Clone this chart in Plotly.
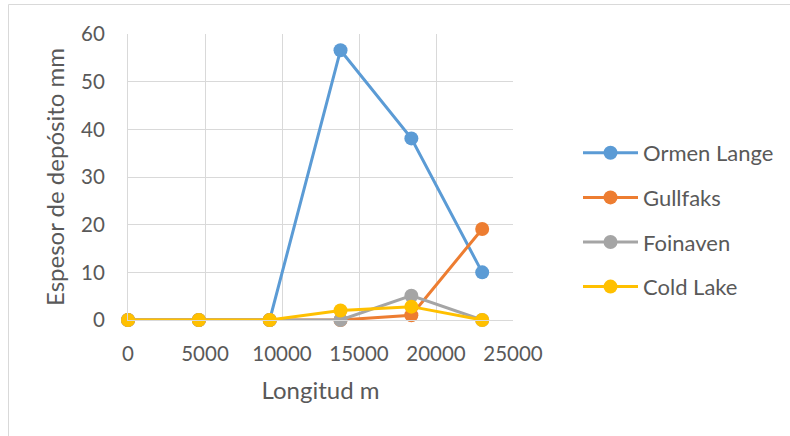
import plotly.graph_objects as go

# Longitud (m) at each measuring station
longitud = [0, 4600, 9200, 13800, 18400, 23000]

# Espesor de depósito (mm) per field
ormen_lange = [0, 0, 0, 56.6, 38.1, 10.0]
gullfaks = [0, 0, 0, 0, 1.0, 19.1]
foinaven = [0, 0, 0, 0, 5.1, 0]
cold_lake = [0, 0, 0, 2.0, 2.8, 0]

series = [
    ("Ormen Lange", ormen_lange, "#5B9BD5"),
    ("Gullfaks", gullfaks, "#ED7D31"),
    ("Foinaven", foinaven, "#A5A5A5"),
    ("Cold Lake", cold_lake, "#FFC000"),
]

x_ticks = [0, 5000, 10000, 15000, 20000, 25000]
y_ticks = [0, 10, 20, 30, 40, 50, 60]

FONT = "Lato"
TXT = "#595959"
GRID = "#D9D9D9"
TICK_SIZE = 20.5
TITLE_SIZE = 24
LEGEND_SIZE = 22

fig = go.Figure()
for name, vals, color in series:
    fig.add_trace(go.Scatter(
        x=longitud, y=vals, name=name, mode="lines+markers",
        legendgroup=name,
        line=dict(color=color, width=3),
        marker=dict(color=color, size=14),
        cliponaxis=False,
    ))

W, H = 790, 436
L, R, T, B = 128, 277, 34, 116
pw, ph = W - L - R, H - T - B

def px_x(p):
    return (p - L) / pw

def px_y(p):
    return (H - B - p) / ph

fig.update_layout(
    width=W, height=H,
    margin=dict(l=L, r=R, t=T, b=B, autoexpand=False),
    paper_bgcolor="white", plot_bgcolor="white",
    font=dict(family=FONT, size=TICK_SIZE, color=TXT),
    showlegend=True,
    legend=dict(
        x=px_x(578), y=px_y(220), xanchor="left", yanchor="middle",
        font=dict(family=FONT, size=LEGEND_SIZE, color=TXT),
        itemwidth=55, tracegroupgap=13,
        bgcolor="rgba(0,0,0,0)",
    ),
    xaxis=dict(
        range=[0, 25000], tickvals=x_ticks, ticktext=[str(v) for v in x_ticks],
        showgrid=True, gridcolor=GRID, gridwidth=1,
        showline=True, linecolor=GRID, linewidth=1, mirror=False,
        zeroline=False, ticks="", ticklabelstandoff=15,
        tickfont=dict(family=FONT, size=TICK_SIZE, color=TXT),
        title=dict(text="Longitud m", font=dict(family=FONT, size=TITLE_SIZE, color=TXT), standoff=18),
    ),
    yaxis=dict(
        range=[0, 60], tickvals=y_ticks,
        showgrid=True, gridcolor=GRID, gridwidth=1,
        showline=True, linecolor=GRID, linewidth=1,
        zeroline=False, ticks="", ticklabelstandoff=18,
        tickfont=dict(family=FONT, size=TICK_SIZE, color=TXT),
        title=dict(text="Espesor de depósito mm", font=dict(family=FONT, size=TITLE_SIZE, color=TXT), standoff=9),
    ),
    shapes=[dict(
        type="rect", xref="paper", yref="paper",
        x0=px_x(8.5), x1=px_x(820), y0=px_y(460), y1=px_y(4.5),
        line=dict(color=GRID, width=1), fillcolor="rgba(0,0,0,0)", layer="below",
    )],
)

fig.write_html("out.html")
